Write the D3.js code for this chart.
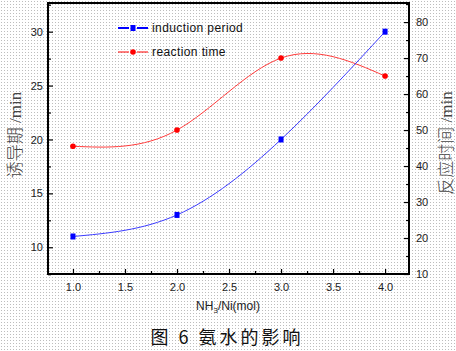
<!DOCTYPE html>
<html>
<head>
<meta charset="utf-8">
<script src="https://cdn.jsdelivr.net/npm/d3@7"></script>
<style>
  body { margin: 0; background: #fff; }
  svg { display: block; }
</style>
</head>
<body>
<div id="chart"></div>
<script>
(function(){

    // NH3/Ni molar ratio
    var ratio = [1.0, 2.0, 3.0, 4.0];
    var inductionPeriod = [11.0, 13.0, 20.0, 30.0];
    var reactionTime = [45.5, 50.0, 70.0, 65.0];

    var xTicks = [1.0, 1.5, 2.0, 2.5, 3.0, 3.5, 4.0];
    var leftTicks = [10, 15, 20, 25, 30];
    var rightTicks = [10, 20, 30, 40, 50, 60, 70, 80];

    var width = 456;
    var height = 351;
    var plot = { left: 48, right: 409, top: 3, bottom: 274 };

    var svg = d3.select("#chart")
        .append("svg")
            .attr("width", width)
            .attr("height", height)
            .attr("xmlns", "http://www.w3.org/2000/svg");

    // dotted paper background
    var pat = svg.append("defs").append("pattern")
        .attr("id", "dots")
        .attr("width", 3)
        .attr("height", 3)
        .attr("patternUnits", "userSpaceOnUse");
    pat.append("rect").attr("width", 3).attr("height", 3).attr("fill", "#fff");
    pat.append("rect").attr("x", 1).attr("y", 1).attr("width", 1).attr("height", 1).attr("fill", "#bdbdbd");

    svg.append("rect")
        .attr("width", width)
        .attr("height", height)
        .attr("fill", "url(#dots)");

    var xScale = d3.scaleLinear()
        .domain([0.76, 4.23])
        .range([plot.left, plot.right]);

    var yLeft = d3.scaleLinear()
        .domain([7.52, 32.66])
        .range([plot.bottom, plot.top]);

    var yRight = d3.scaleLinear()
        .domain([10, 85.3])
        .range([plot.bottom, plot.top]);

    var tickFont = '"Liberation Sans", Arial, sans-serif';

    function styleAxis(g) {
        g.select(".domain").remove();
        g.selectAll(".tick line").attr("stroke", "#000").attr("stroke-width", 1.2);
        g.selectAll(".tick text")
            .attr("font-family", tickFont)
            .attr("font-size", "11px")
            .attr("fill", "#222");
    }

    // major axes
    svg.append("g")
        .attr("transform", "translate(0," + plot.bottom + ")")
        .call(d3.axisBottom(xScale).tickValues(xTicks).tickSize(-5).tickPadding(9).tickFormat(d3.format(".1f")))
        .call(styleAxis);

    svg.append("g")
        .attr("transform", "translate(" + plot.left + ",0)")
        .call(d3.axisLeft(yLeft).tickValues(leftTicks).tickSize(-5).tickPadding(5))
        .call(styleAxis);

    svg.append("g")
        .attr("transform", "translate(" + plot.right + ",0)")
        .call(d3.axisRight(yRight).tickValues(rightTicks).tickSize(-5).tickPadding(7))
        .call(styleAxis);

    // minor ticks
    svg.append("g")
        .attr("transform", "translate(0," + plot.bottom + ")")
        .call(d3.axisBottom(xScale).tickValues(d3.range(1.25, 4.1, 0.5)).tickSize(-3).tickFormat(""))
        .call(styleAxis);

    svg.append("g")
        .attr("transform", "translate(" + plot.left + ",0)")
        .call(d3.axisLeft(yLeft).tickValues([7.5, 12.5, 17.5, 22.5, 27.5, 32.5]).tickSize(-3).tickFormat(""))
        .call(styleAxis);

    svg.append("g")
        .attr("transform", "translate(" + plot.right + ",0)")
        .call(d3.axisRight(yRight).tickValues([15, 25, 35, 45, 55, 65, 75, 85]).tickSize(-3).tickFormat(""))
        .call(styleAxis);

    // frame
    svg.append("rect")
        .attr("x", plot.left)
        .attr("y", plot.top)
        .attr("width", plot.right - plot.left)
        .attr("height", plot.bottom - plot.top)
        .attr("fill", "none")
        .attr("stroke", "#000")
        .attr("stroke-width", 2);

    // curves
    var lineLeft = d3.line()
        .x(function(d, i){ return xScale(ratio[i]); })
        .y(function(d){ return yLeft(d); })
        .curve(d3.curveNatural);

    var lineRight = d3.line()
        .x(function(d, i){ return xScale(ratio[i]); })
        .y(function(d){ return yRight(d); })
        .curve(d3.curveNatural);

    svg.append("path")
        .datum(reactionTime)
        .attr("d", lineRight)
        .attr("fill", "none")
        .attr("stroke", "#ff3c3c")
        .attr("stroke-width", 1);

    svg.append("path")
        .datum(inductionPeriod)
        .attr("d", lineLeft)
        .attr("fill", "none")
        .attr("stroke", "#3c3cff")
        .attr("stroke-width", 1);

    svg.selectAll(".red-pt")
        .data(reactionTime)
        .enter()
        .append("circle")
        .attr("class", "red-pt")
        .attr("cx", function(d, i){ return xScale(ratio[i]); })
        .attr("cy", function(d){ return yRight(d); })
        .attr("r", 2.8)
        .attr("fill", "#ff0000");

    svg.selectAll(".blue-pt")
        .data(inductionPeriod)
        .enter()
        .append("rect")
        .attr("class", "blue-pt")
        .attr("x", function(d, i){ return xScale(ratio[i]) - 2.5; })
        .attr("y", function(d){ return yLeft(d) - 3; })
        .attr("width", 5)
        .attr("height", 6)
        .attr("fill", "#0000ff");

    // legend
    var legend = svg.append("g").attr("class", "legend");
    var legendItems = [
        { label: "induction period", color: "#0000ff", y: 28, shape: "square" },
        { label: "reaction time", color: "#ff0000", y: 52, shape: "circle" }
    ];

    legendItems.forEach(function(item){
        var g = legend.append("g");
        g.append("line")
            .attr("x1", 118).attr("x2", 129)
            .attr("y1", item.y).attr("y2", item.y)
            .attr("stroke", item.color)
            .attr("stroke-width", item.shape == "square" ? 2 : 1);
        g.append("line")
            .attr("x1", 137).attr("x2", 148)
            .attr("y1", item.y).attr("y2", item.y)
            .attr("stroke", item.color)
            .attr("stroke-width", item.shape == "square" ? 2 : 1);
        if (item.shape == "square") {
            g.append("rect")
                .attr("x", 130.5).attr("y", item.y - 3)
                .attr("width", 5).attr("height", 6)
                .attr("fill", item.color);
        } else {
            g.append("circle")
                .attr("cx", 133).attr("cy", item.y)
                .attr("r", 2.8)
                .attr("fill", item.color);
        }
        g.append("text")
            .attr("x", 152)
            .attr("y", item.y + 4)
            .attr("font-family", tickFont)
            .attr("font-size", "12px")
            .attr("letter-spacing", "0.4px")
            .attr("fill", "#111")
            .text(item.label);
    });

    // axis titles
    var titleFont = '"Liberation Serif", "Noto Sans CJK SC", serif';

    svg.append("text")
        .attr("transform", "translate(15,135) rotate(-90)")
        .attr("text-anchor", "middle")
        .attr("dominant-baseline", "central")
        .attr("font-family", titleFont)
        .attr("font-size", "17px")
        .attr("font-weight", 300)
        .attr("fill", "#444")
        .text("诱导期 /min");

    svg.append("text")
        .attr("transform", "translate(446,143) rotate(-90)")
        .attr("text-anchor", "middle")
        .attr("dominant-baseline", "central")
        .attr("font-family", titleFont)
        .attr("font-size", "17px")
        .attr("font-weight", 300)
        .attr("fill", "#444")
        .text("反应时间 /min");

    var xTitle = svg.append("text")
        .attr("x", 228)
        .attr("y", 310)
        .attr("text-anchor", "middle")
        .attr("font-family", tickFont)
        .attr("font-size", "12px")
        .attr("fill", "#222");
    xTitle.append("tspan").text("NH");
    xTitle.append("tspan").attr("font-size", "8px").attr("dy", 3).text("3");
    xTitle.append("tspan").attr("dy", -3).text("/Ni(mol)");

    svg.append("text")
        .attr("x", 227)
        .attr("y", 344)
        .attr("text-anchor", "middle")
        .attr("font-family", '"Noto Sans CJK SC", sans-serif')
        .attr("font-size", "18px")
        .attr("letter-spacing", "3px")
        .attr("fill", "#111")
        .text("图 6 氨水的影响");

})();
</script>
</body>
</html>
